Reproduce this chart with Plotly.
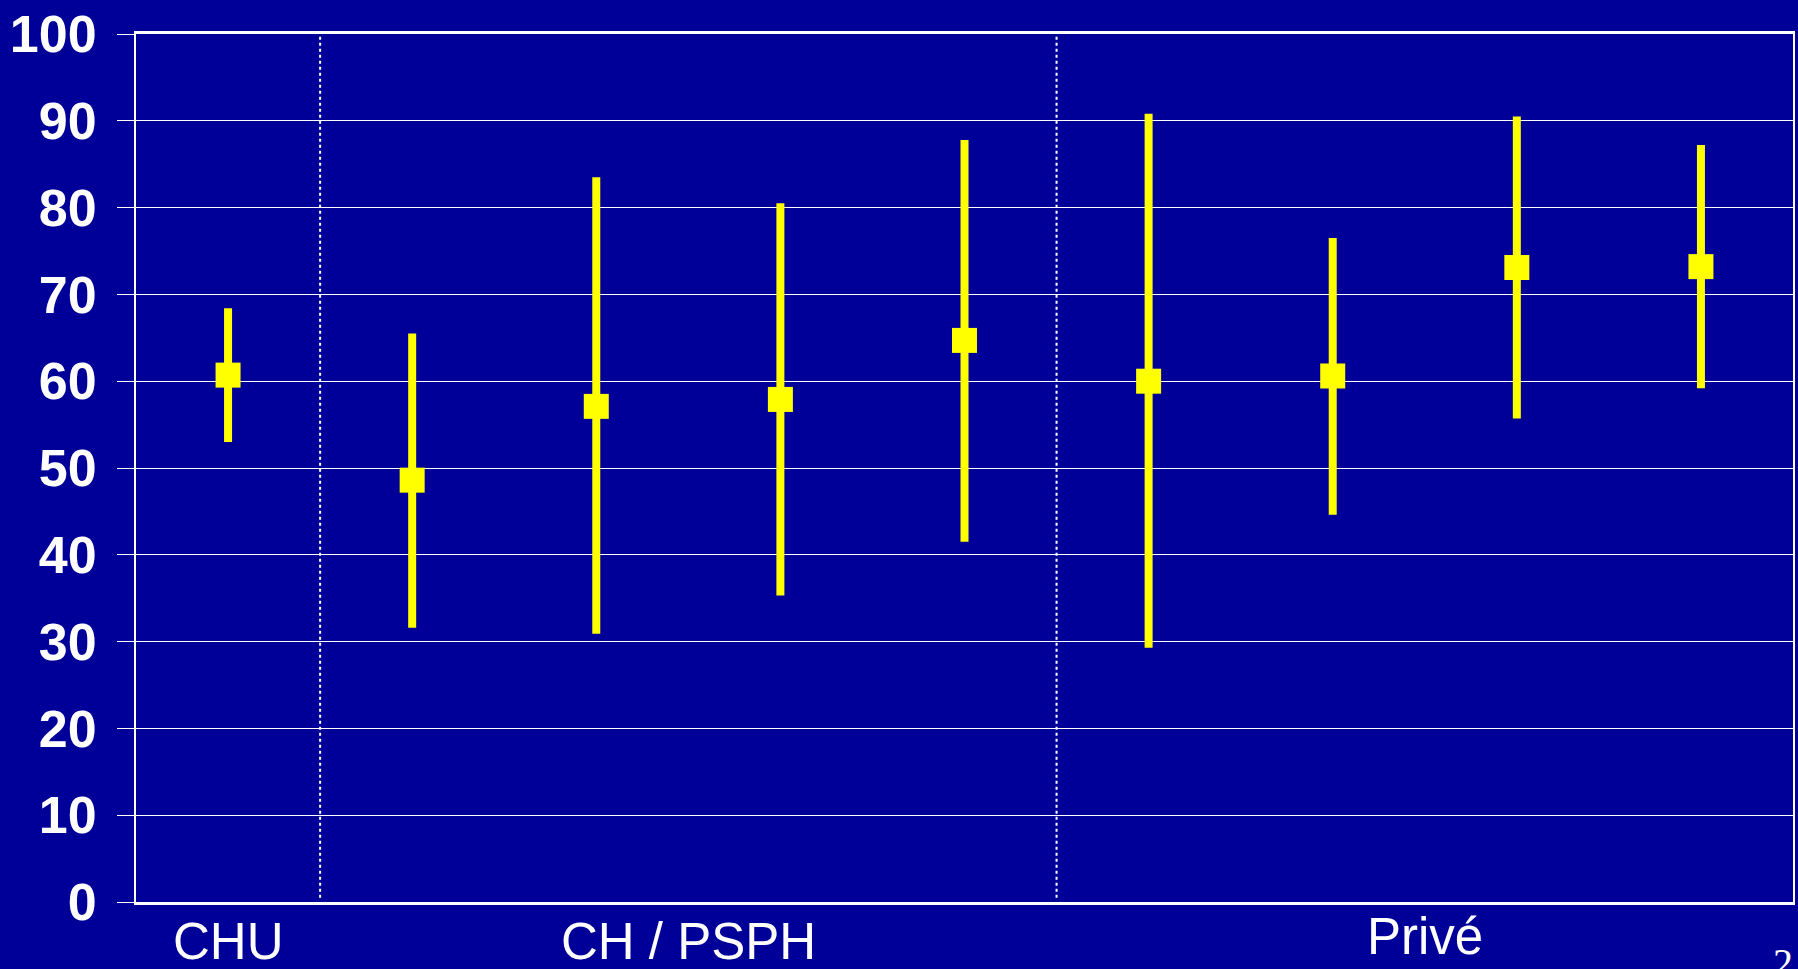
import plotly.graph_objects as go

# Data
positions = [0, 1, 2, 3, 4, 5, 6, 7, 8]
means = [60.7, 48.6, 57.1, 57.9, 64.7, 60.0, 60.6, 73.1, 73.2]
upper = [68.4, 65.5, 83.5, 80.5, 87.8, 90.8, 76.5, 90.5, 87.2]
lower = [53.0, 31.6, 30.9, 35.3, 41.5, 29.3, 44.6, 55.7, 59.2]

group_labels = ["CHU", "CH / PSPH", "Privé"]
group_label_x = [0, 2.5, 6.5]
group_label_y = [-0.046, -0.046, -0.040]
separators = [0.5, 4.5]
y_ticks = [0, 10, 20, 30, 40, 50, 60, 70, 80, 90, 100]

BG = "#000099"
YELLOW = "#FFFF00"
SANS = "Liberation Sans, Arial, sans-serif"

err_plus = [u - m for u, m in zip(upper, means)]
err_minus = [m - l for m, l in zip(means, lower)]

fig = go.Figure()
fig.add_trace(go.Scatter(
    x=positions, y=means, mode="markers",
    marker=dict(symbol="square", size=25, color=YELLOW, line=dict(width=0)),
    error_y=dict(type="data", symmetric=False, array=err_plus, arrayminus=err_minus,
                 color=YELLOW, thickness=8, width=0),
    showlegend=False, hoverinfo="skip",
))

for s in separators:
    fig.add_shape(type="line", x0=s, x1=s, y0=0.5, y1=100, xref="x", yref="y",
                  line=dict(color="white", width=2, dash="dot"))

for lbl, gx, gy in zip(group_labels, group_label_x, group_label_y):
    fig.add_annotation(x=gx, y=gy, xref="x", yref="paper", text=lbl,
                       showarrow=False, xanchor="center", yanchor="middle",
                       font=dict(family=SANS, size=51, color="white"))

fig.add_annotation(x=0.994, y=-0.042, xref="paper", yref="paper", text="2",
                   showarrow=False, xanchor="center", yanchor="top",
                   font=dict(family="Liberation Serif, Times New Roman, serif", size=40, color="white"))

fig.update_layout(
    width=1798, height=969,
    margin=dict(l=136, r=3, t=34, b=67),
    paper_bgcolor=BG, plot_bgcolor=BG,
    showlegend=False,
    xaxis=dict(range=[-0.5, 8.5], showgrid=False, zeroline=False,
               showticklabels=False, ticks="",
               showline=True, linecolor="white", linewidth=3, mirror=True),
    yaxis=dict(range=[0, 100], tickvals=y_ticks, showgrid=True, gridcolor="white",
               gridwidth=1, zeroline=False, ticks="outside", ticklen=17,
               tickcolor="white", tickwidth=1, ticklabelstandoff=10,
               tickfont=dict(family=SANS, size=52, color="white", weight="bold"),
               showline=True, linecolor="white", linewidth=2, mirror=True),
)

fig.write_html("out.html", config={"displayModeBar": False},
               post_script="document.body.style.margin='0';document.body.style.overflow='hidden';")
